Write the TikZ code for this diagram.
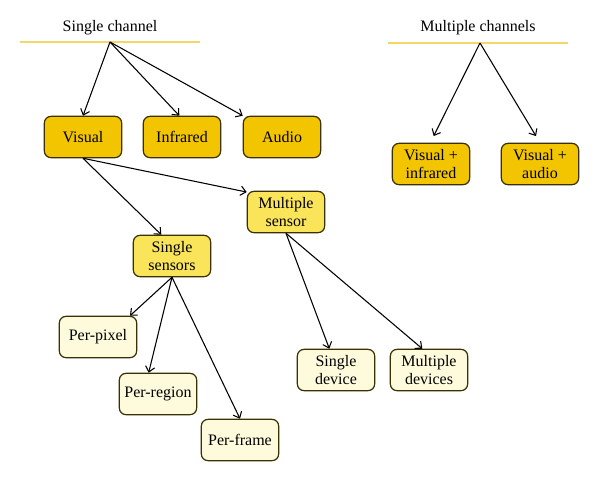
\documentclass[tikz,border=0pt]{standalone}
\usepackage{fontspec}
\setmainfont{Liberation Serif}
\usepackage{tikz}
\usetikzlibrary{trees,shapes,arrows.meta}

\definecolor{darkgold}{HTML}{F2C500}
\definecolor{midgold}{HTML}{F9E45A}
\definecolor{palegold}{HTML}{FEFBDC}
\definecolor{rulegold}{HTML}{F2D868}
\definecolor{edgebrown}{HTML}{3A3000}

\tikzset{
  box/.style={rectangle,rounded corners=5pt,draw=edgebrown,line width=0.9pt,
    minimum width=58pt,minimum height=31pt,align=center,inner sep=2pt,
    font=\fontsize{12pt}{13pt}\selectfont},
  chanbox/.style={box,fill=darkgold},
  sensbox/.style={box,fill=midgold},
  leafbox/.style={box,fill=palegold},
  title/.style={font=\fontsize{12pt}{13pt}\selectfont},
  link/.style={-{Straight Barb[length=4pt,width=7pt]},line width=0.8pt}
}

\begin{document}
\begin{tikzpicture}[x=0.75pt,y=-0.75pt]
        \useasboundingbox (0,0) rectangle (600,482);
        % headings
        \node[title] (single) at (110,28) {Single channel};
        \node[title] (multi) at (478,28) {Multiple channels};
        \draw[rulegold,line width=1pt] (20,42) -- (200,42);
        \draw[rulegold,line width=1pt] (388,43) -- (568,43);
        \coordinate (stop) at (110,42);
        \coordinate (mtop) at (480,43);

        % channels
        \node[chanbox] (visual) at (83,137) {Visual};
        \node[chanbox] (infrared) at (182,137) {Infrared};
        \node[chanbox] (audio) at (282,137) {Audio};
        \node[chanbox] (visinf) at (431,164) {Visual +\\infrared};
        \node[chanbox] (visaud) at (540,164) {Visual +\\audio};

        % sensors
        \node[sensbox] (msensor) at (286,212) {Multiple\\sensor};
        \node[sensbox] (ssensor) at (172,256) {Single\\sensors};

        % leaves
        \node[leafbox] (pixel) at (98,337) {Per-pixel};
        \node[leafbox] (region) at (158,394) {Per-region};
        \node[leafbox] (frame) at (240,440) {Per-frame};
        \node[leafbox] (sdevice) at (336,370) {Single\\device};
        \node[leafbox] (mdevice) at (429,370) {Multiple\\devices};

        \draw[link] (stop) -- (visual.north);
        \draw[link] (stop) -- ([xshift=-2pt]infrared.north);
        \draw[link] (stop) -- (audio.north west);
        \draw[link] (mtop) -- ([xshift=2pt,yshift=5pt]visinf.north);
        \draw[link] (mtop) -- ([xshift=-3pt,yshift=5pt]visaud.north);

        \draw[link] (visual.south) -- ([xshift=-8pt]ssensor.north);
        \draw[link] (visual.south) -- ([yshift=-1pt]msensor.north west);
        \draw[link] (ssensor.south) -- ([xshift=24pt]pixel.north);
        \draw[link] (ssensor.south) -- ([xshift=-7pt]region.north);
        \draw[link] (ssensor.south) -- (frame.north);
        \draw[link] (msensor.south) -- ([xshift=-5pt]sdevice.north);
        \draw[link] (msensor.south) -- ([xshift=-5pt]mdevice.north);
\end{tikzpicture}
\end{document}
